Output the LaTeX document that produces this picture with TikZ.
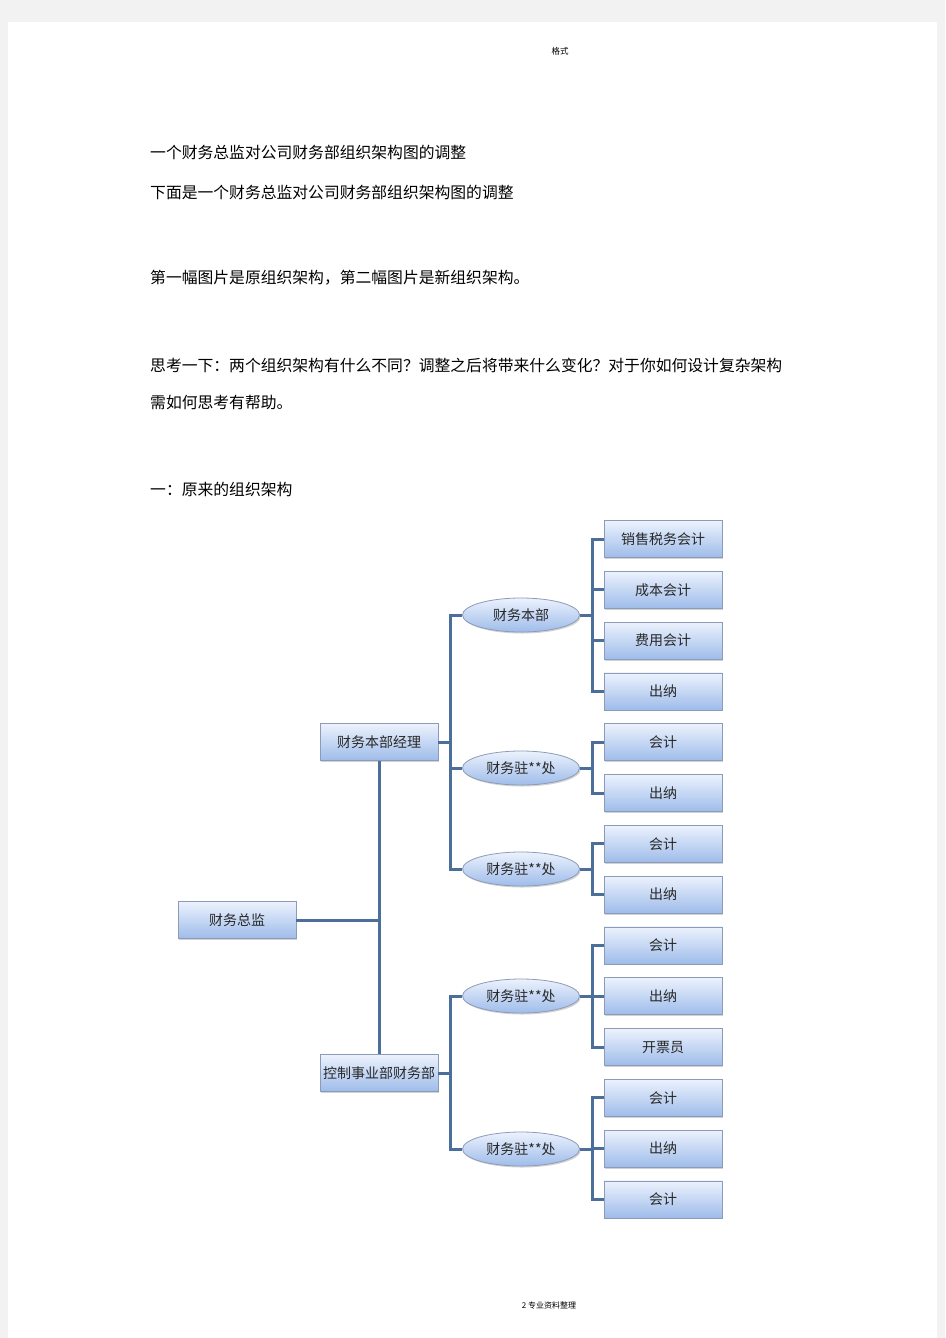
\documentclass[tikz,border=0pt]{standalone}
\usepackage{fontspec}
\setmainfont{Noto Sans CJK SC}
\usetikzlibrary{positioning,shapes.geometric,shadows}

\definecolor{linkblue}{RGB}{76,110,155}
\definecolor{boxtop}{RGB}{236,242,253}
\definecolor{boxbot}{RGB}{158,188,234}
\definecolor{boxedge}{RGB}{140,156,184}
\definecolor{pagegray}{RGB}{242,242,242}
\definecolor{inkgray}{RGB}{40,40,40}

\begin{document}
\begin{tikzpicture}[
	x = 1pt,
	y = -1pt,
	post/.style = {
	  draw = boxedge,
	  line width = 0.8pt,
	  top color = boxtop,
	  bottom color = boxbot,
	  minimum width = 118pt,
	  minimum height = 37pt,
	  inner sep = 0pt,
	  text = inkgray,
	  font = \fontsize{14}{14}\selectfont,
	  drop shadow = {shadow xshift=1.2pt, shadow yshift=-1.5pt, opacity=.35}},
	unit/.style = {
	  post,
	  ellipse,
	  minimum width = 117pt,
	  minimum height = 34pt},
	link/.style = {
	  draw = linkblue,
	  line width = 3pt},
	para/.style = {
	  anchor = west,
	  inner sep = 0pt,
	  font = \fontsize{15.8}{16}\selectfont}
	]
  % page and margins
  \fill[pagegray] (0,0) rectangle (945,1338);
  \fill[white] (8,22) rectangle (937,1338);
  \useasboundingbox (0,0) rectangle (945,1338);

  % header and footer
  \node[inner sep=0pt, font=\fontsize{8.5}{9}\selectfont] (head) at (560,51) {格式};
  \node[inner sep=0pt, font=\fontsize{8}{9}\selectfont] (foot) at (549,1305) {2 专业资料整理};

  % text above the chart
  \node[para] (t1) at (150,152) {一个财务总监对公司财务部组织架构图的调整};
  \node[para] (t2) at (150,192) {下面是一个财务总监对公司财务部组织架构图的调整};
  \node[para] (t3) at (150,278) {第一幅图片是原组织架构，第二幅图片是新组织架构。};
  \node[para] (t4) at (150,365) {思考一下：两个组织架构有什么不同？调整之后将带来什么变化？对于你如何设计复杂架构};
  \node[para] (t5) at (150,403) {需如何思考有帮助。};
  \node[para] (t6) at (150,489) {一：原来的组织架构};

  % chart: root and the two managers
  \node[post] (cfo) at (237,920) {财务总监};
  \node[post] (mgr1) at (379,742) {财务本部经理};
  \node[post] (mgr2) at (379,1073) {控制事业部财务部};
  \draw[link] (cfo.east) -| (mgr1.south);
  \draw[link] (cfo.east) -| (mgr2.north);

  % departments
  \node[unit] (d1) at (521,615) {财务本部};
  \node[unit] (d2) at (521,768) {财务驻**处};
  \node[unit] (d3) at (521,869) {财务驻**处};
  \node[unit] (d4) at (521,996) {财务驻**处};
  \node[unit] (d5) at (521,1149) {财务驻**处};
  \foreach \d/\m in {d1/mgr1, d2/mgr1, d3/mgr1, d4/mgr2, d5/mgr2}
    \draw[link] (\d.west) -- ++(-12,0) |- (\m.east);

  % posts
  \foreach \txt/\up [count=\i from 0] in {销售税务会计/d1, 成本会计/d1, 费用会计/d1, 出纳/d1,
      会计/d2, 出纳/d2, 会计/d3, 出纳/d3, 会计/d4, 出纳/d4, 开票员/d4, 会计/d5, 出纳/d5, 会计/d5}{
    \node[post] (leaf\i) at (663,{539+50.8*\i}) {\txt};
    \draw[link] (leaf\i.west) -- ++(-11,0) |- (\up.east);
  }

\end{tikzpicture}
\end{document}
